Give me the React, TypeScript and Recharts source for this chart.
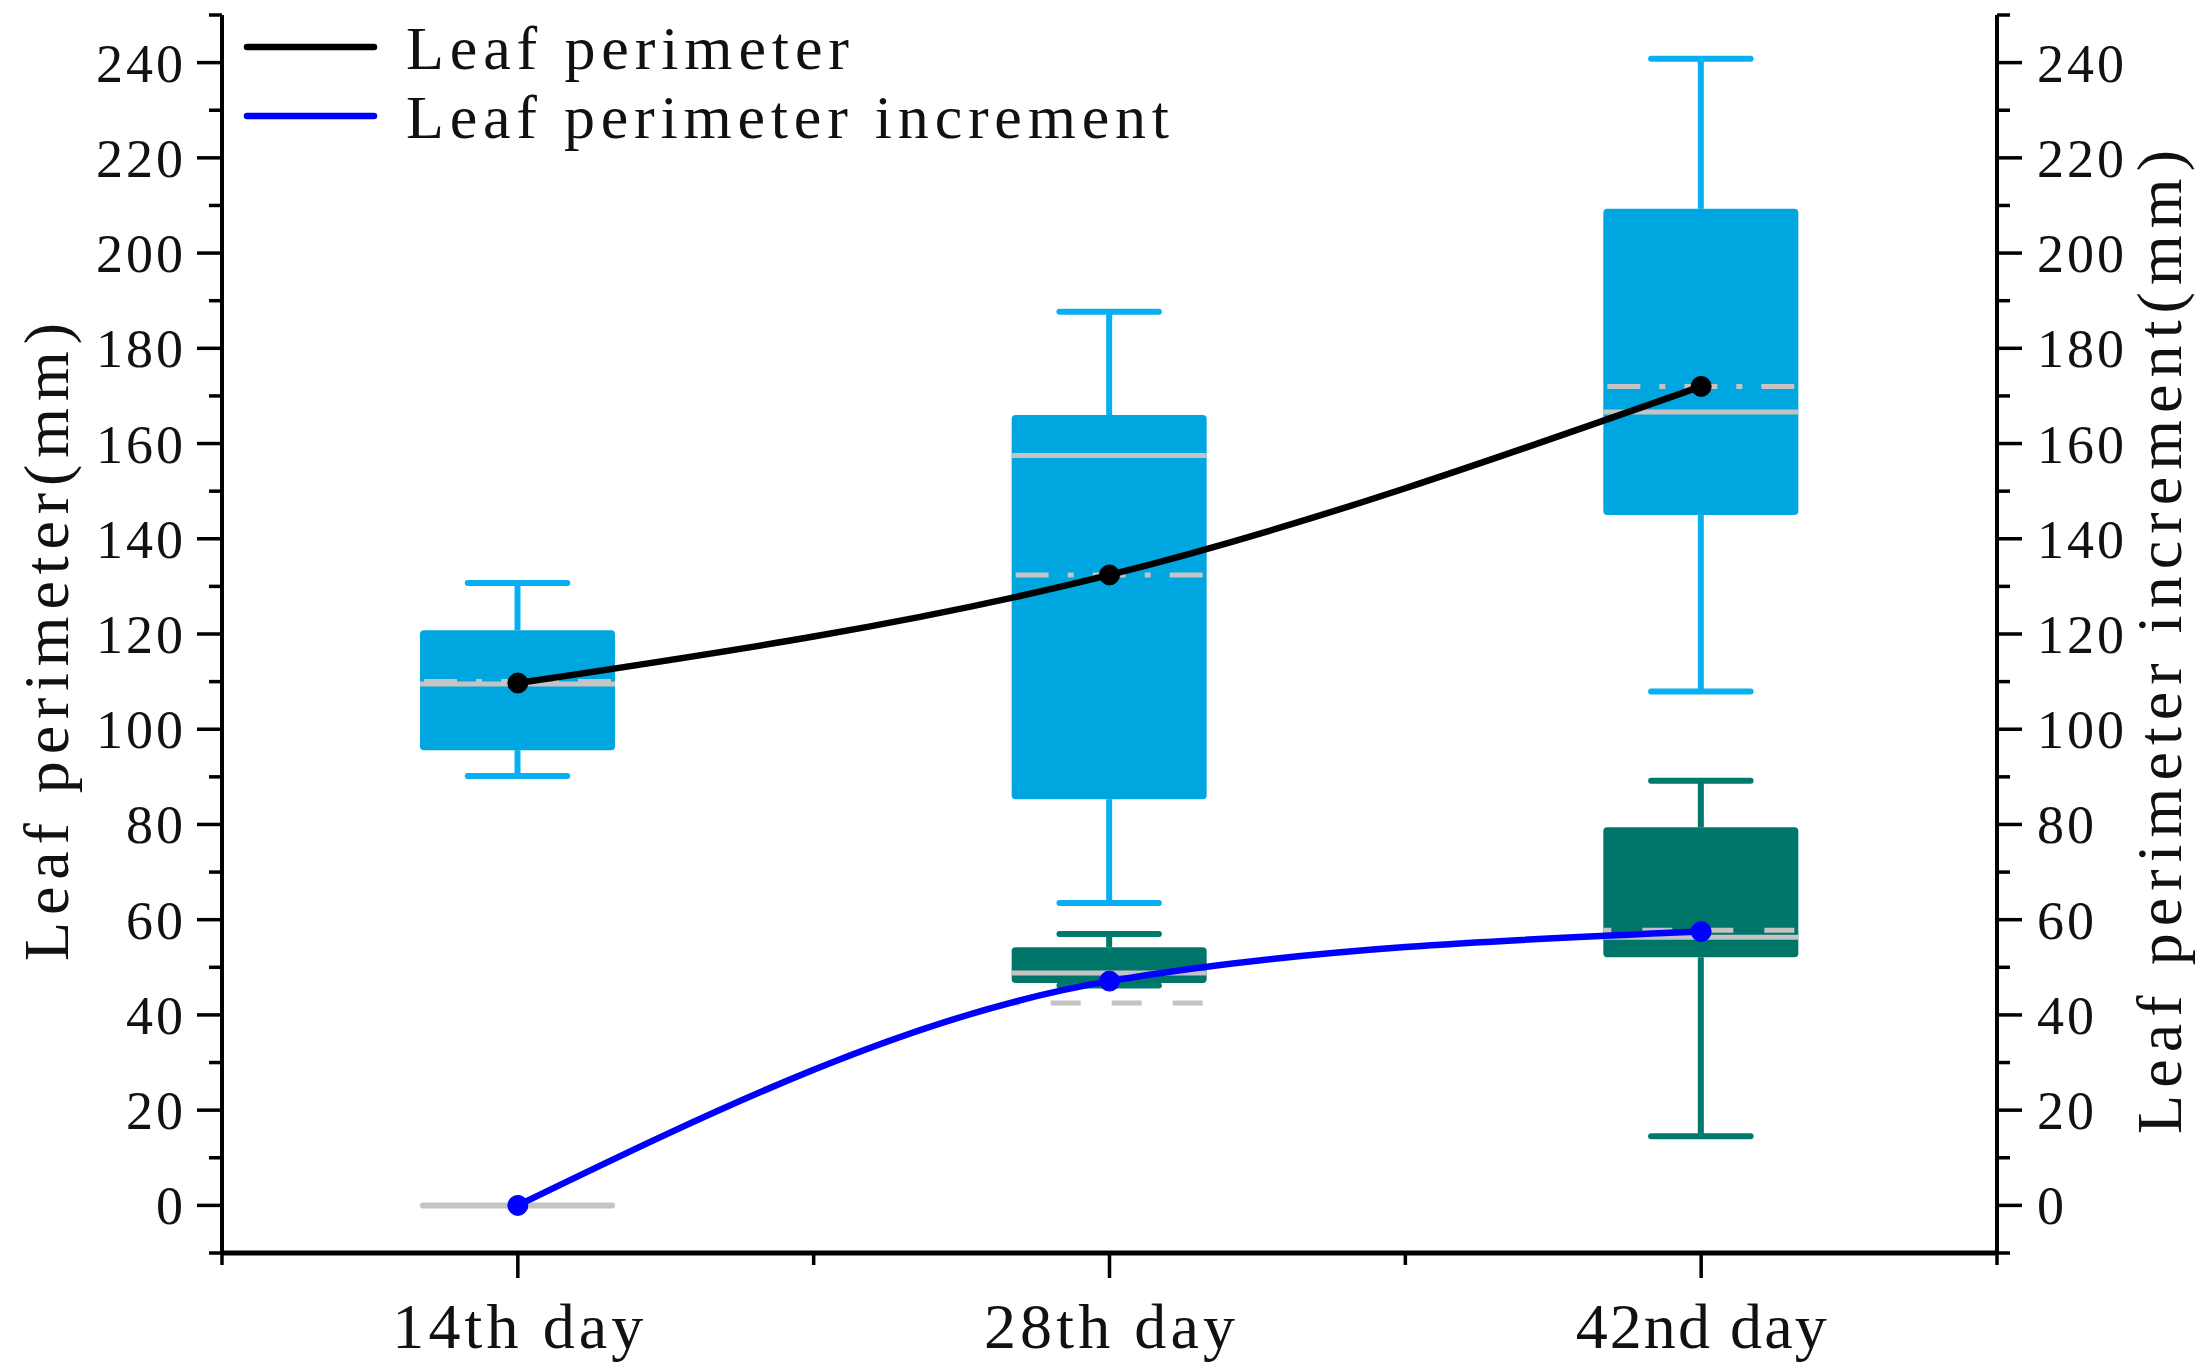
import React from "react";
import { ComposedChart, Bar, Line, XAxis, YAxis } from "recharts";

const FONT = "'Liberation Serif', 'DejaVu Serif', serif";
const GRAY = "#c4c4c4";

// categories
const dayLabels = ["14th day", "28th day", "42nd day"];
const dayPositions = [1, 2, 3];

// Leaf perimeter boxes (mm)
const perimeterMin = [90.2, 63.5, 107.9];
const perimeterQ1 = [95.6, 85.3, 145.0];
const perimeterMedian = [109.5, 157.5, 166.6];
const perimeterMean = [110.0, 132.4, 172.0];
const perimeterQ3 = [120.8, 166.0, 209.3];
const perimeterMax = [130.7, 187.7, 240.8];

// Leaf perimeter increment boxes (mm)
const incrementMin = [0, 46.2, 14.5];
const incrementQ1 = [0, 46.7, 52.1];
const incrementMedian = [0, 48.8, 56.3];
const incrementMean = [0, 42.5, 57.8];
const incrementQ3 = [0, 54.2, 79.4];
const incrementMax = [0, 57.0, 89.2];

// mean curves
const perimeterTrend = [109.7, 132.4, 172.0];
const incrementTrend = [0, 47.1, 57.5];

// ticks
const yTicks = [-10, 0, 10, 20, 30, 40, 50, 60, 70, 80, 90, 100, 110, 120, 130, 140, 150, 160, 170, 180, 190, 200, 210, 220, 230, 240, 250];
const xTicks = [0.5, 1, 1.5, 2, 2.5, 3, 3.5];

const legendItems = [
  { name: "Leaf perimeter", color: "#000000" },
  { name: "Leaf perimeter increment", color: "#0000ff" },
];

const rows = dayPositions.map((pos, i) => ({
  pos,
  label: dayLabels[i],
  perimeterRange: [perimeterMin[i], perimeterMax[i]],
  perimeterBox: {
    min: perimeterMin[i],
    q1: perimeterQ1[i],
    median: perimeterMedian[i],
    mean: perimeterMean[i],
    q3: perimeterQ3[i],
    max: perimeterMax[i],
  },
  incrementRange: [incrementMin[i], incrementMax[i]],
  incrementBox: {
    min: incrementMin[i],
    q1: incrementQ1[i],
    median: incrementMedian[i],
    mean: incrementMean[i],
    q3: incrementQ3[i],
    max: incrementMax[i],
  },
  perimeter: perimeterTrend[i],
  increment: incrementTrend[i],
}));

type BoxStyle = { fill: string; whisker: string; meanDash: string; meanOffset: number };

const makeBoxShape = (key: "perimeterBox" | "incrementBox", style: BoxStyle) => (props: any) => {
  const { x, y, width, height, payload } = props;
  const s = payload[key];
  const span = s.max - s.min;
  if (!(span > 0)) {
    // all values equal: only the median line shows
    return (
      <line x1={x + 3} x2={x + width - 3} y1={y} y2={y} stroke={GRAY} strokeWidth={6} strokeLinecap="round" />
    );
  }
  const k = height / span;
  const py = (v: number) => y + (s.max - v) * k;
  const cx = x + width / 2;
  const cap = width * 0.255;
  return (
    <g>
      <line x1={cx} x2={cx} y1={py(s.max)} y2={py(s.q3)} stroke={style.whisker} strokeWidth={6} />
      <line x1={cx} x2={cx} y1={py(s.q1)} y2={py(s.min)} stroke={style.whisker} strokeWidth={6} />
      <line x1={cx - cap} x2={cx + cap} y1={py(s.max)} y2={py(s.max)} stroke={style.whisker} strokeWidth={6} strokeLinecap="round" />
      <line x1={cx - cap} x2={cx + cap} y1={py(s.min)} y2={py(s.min)} stroke={style.whisker} strokeWidth={6} strokeLinecap="round" />
      <rect x={x} y={py(s.q3)} width={width} height={py(s.q1) - py(s.q3)} rx={4} fill={style.fill} />
      <line x1={x} x2={x + width} y1={py(s.median)} y2={py(s.median)} stroke={GRAY} strokeWidth={5} />
      <line
        x1={x}
        x2={x + width}
        y1={py(s.mean)}
        y2={py(s.mean)}
        stroke={GRAY}
        strokeWidth={5}
        strokeDasharray={style.meanDash}
        strokeDashoffset={style.meanOffset}
      />
    </g>
  );
};

const perimeterShape = makeBoxShape("perimeterBox", {
  fill: "#00a6df",
  whisker: "#0aaef2",
  meanDash: "33 19 6 19",
  meanOffset: 73,
});
const incrementShape = makeBoxShape("incrementBox", {
  fill: "#00766a",
  whisker: "#007a6c",
  meanDash: "30 31",
  meanOffset: 22,
});

const XTick = (props: any) => {
  const { x, y, payload } = props;
  const v = payload.value;
  const idx = dayPositions.indexOf(v);
  const major = idx >= 0;
  return (
    <g>
      <line x1={x} x2={x} y1={y} y2={y + (major ? 25 : 12)} stroke="#000" strokeWidth={3.5} />
      {major && (
        <text x={x} y={y + 95} textAnchor="middle" fontSize={64} fontFamily={FONT} fill="#111" textLength={251} lengthAdjust="spacing">
          {dayLabels[idx]}
        </text>
      )}
    </g>
  );
};

const makeYTick = (side: "left" | "right") => (props: any) => {
  const { x, y, payload } = props;
  const v = payload.value;
  const major = v >= 0 && v <= 240 && v % 20 === 0;
  const dir = side === "left" ? -1 : 1;
  const len = major ? 25 : 13;
  return (
    <g>
      <line x1={x} x2={x + dir * len} y1={y} y2={y} stroke="#000" strokeWidth={3.5} />
      {major && (
        <text
          x={side === "left" ? x - 36 : x + 40}
          y={y + 19}
          textAnchor={side === "left" ? "end" : "start"}
          fontSize={54}
          letterSpacing={3}
          fontFamily={FONT}
          fill="#111"
        >
          {v}
        </text>
      )}
    </g>
  );
};

const AxisTitle = (props: any) => {
  const { viewBox, text, side, length } = props;
  const vb = viewBox || { x: 0, y: 15, width: 222, height: 1238 };
  const bx = side === "left" ? vb.x + 68 : vb.x + vb.width - 28;
  const cy = vb.y + vb.height / 2 + 8;
  return (
    <text
      x={bx}
      y={cy}
      transform={`rotate(-90 ${bx} ${cy})`}
      textAnchor="middle"
      fontSize={64}
      fontFamily={FONT}
      fill="#111"
      textLength={length}
      lengthAdjust="spacing"
    >
      {text}
    </text>
  );
};

export default function App() {
  return (
    <div style={{ position: "absolute", left: 0, top: 0, width: 2209, height: 1367, background: "#fff" }}>
      <ComposedChart width={2209} height={1367} data={rows} margin={{ top: 15, right: 0, bottom: 0, left: 0 }}>
        <XAxis
          xAxisId="day"
          dataKey="pos"
          type="number"
          domain={[0.5, 3.5]}
          ticks={xTicks}
          interval={0}
          height={114}
          tickSize={0}
          tickMargin={0}
          tickLine={false}
          axisLine={{ stroke: "#000", strokeWidth: 5 }}
          tick={XTick}
          allowDataOverflow
        />
        <XAxis xAxisId="inc" dataKey="pos" type="number" domain={[0.5, 3.5]} ticks={xTicks} hide allowDataOverflow />
        <YAxis
          yAxisId="left"
          type="number"
          domain={[-10, 250]}
          ticks={yTicks}
          interval={0}
          width={222}
          tickSize={0}
          tickMargin={0}
          tickLine={false}
          axisLine={{ stroke: "#000", strokeWidth: 4 }}
          tick={makeYTick("left")}
          allowDataOverflow
          label={<AxisTitle text="Leaf perimeter(mm)" side="left" length={638} />}
        />
        <YAxis
          yAxisId="right"
          orientation="right"
          type="number"
          domain={[-10, 250]}
          ticks={yTicks}
          interval={0}
          width={212}
          tickSize={0}
          tickMargin={0}
          tickLine={false}
          axisLine={{ stroke: "#000", strokeWidth: 4 }}
          tick={makeYTick("right")}
          allowDataOverflow
          label={<AxisTitle text="Leaf perimeter increment(mm)" side="right" length={984} />}
        />
        <Bar xAxisId="day" yAxisId="left" dataKey="perimeterRange" barSize={195} shape={perimeterShape} isAnimationActive={false} />
        <Bar xAxisId="inc" yAxisId="right" dataKey="incrementRange" barSize={195} shape={incrementShape} isAnimationActive={false} />
        <Line
          xAxisId="day"
          yAxisId="left"
          dataKey="perimeter"
          type="monotone"
          stroke="#000000"
          strokeWidth={6.5}
          dot={{ r: 10, fill: "#000000", stroke: "#000000", strokeWidth: 1 }}
          activeDot={false}
          isAnimationActive={false}
        />
        <Line
          xAxisId="day"
          yAxisId="right"
          dataKey="increment"
          type="monotone"
          stroke="#0000ff"
          strokeWidth={6.5}
          dot={{ r: 10, fill: "#0000ff", stroke: "#0000ff", strokeWidth: 1 }}
          activeDot={false}
          isAnimationActive={false}
        />
      </ComposedChart>
      <svg width={2209} height={1367} style={{ position: "absolute", left: 0, top: 0, pointerEvents: "none" }}>
        {legendItems.map((item, i) => (
          <g key={item.name}>
            <line x1={247} x2={374} y1={47 + i * 69} y2={47 + i * 69} stroke={item.color} strokeWidth={6.5} strokeLinecap="round" />
            <text
              x={406}
              y={69 + i * 69}
              fontSize={62}
              fontFamily={FONT}
              fill="#111"
              textLength={i === 0 ? 443 : 763}
              lengthAdjust="spacing"
            >
              {item.name}
            </text>
          </g>
        ))}
      </svg>
    </div>
  );
}
